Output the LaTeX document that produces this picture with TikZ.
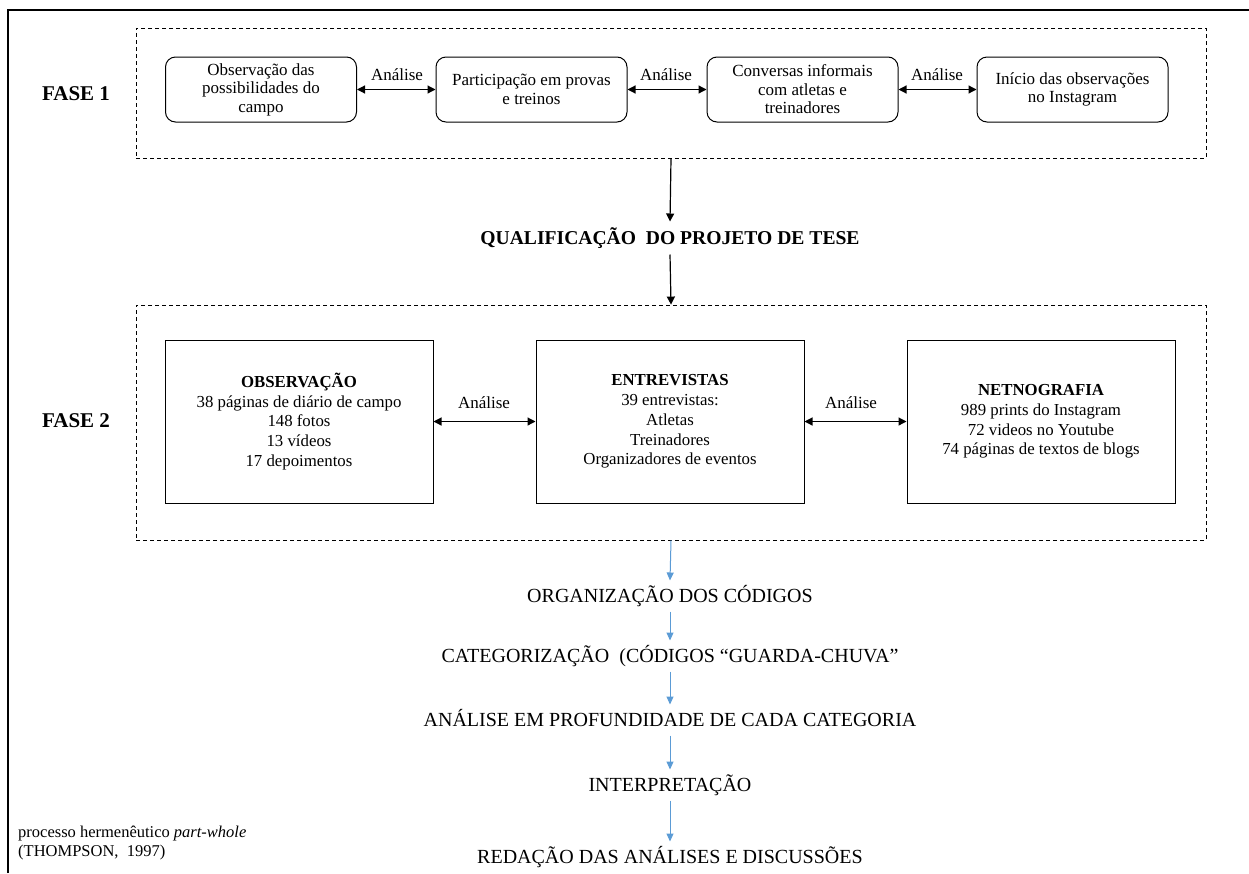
\documentclass[tikz,border=0pt]{standalone}
\usepackage{fontspec}
\setmainfont{Liberation Serif}
\usetikzlibrary{arrows.meta}
\definecolor{flowblue}{RGB}{91,155,213}
\begin{document}
\begin{tikzpicture}[x=1pt,y=-1pt,
  rbox/.style={draw,rounded corners=10pt,line width=1pt,minimum width=191pt,minimum height=65pt,align=center,inner sep=2pt,font=\fontsize{17}{18.5}\selectfont},
  sbox/.style={draw,line width=1pt,minimum width=268pt,minimum height=163pt,align=center,inner sep=2pt,font=\fontsize{16.8}{19.8}\selectfont},
  phase/.style={draw,dash pattern=on 4pt off 3pt,line width=0.9pt,minimum width=1070pt},
  lbl/.style={font=\fontsize{17}{18}\selectfont,inner sep=0pt},
  fase/.style={font=\fontsize{21}{24}\selectfont\bfseries,inner sep=0pt},
  steptext/.style={font=\fontsize{20}{22}\selectfont,inner sep=0pt,text height=13pt,text depth=0pt,outer sep=9pt},
  biarrow/.style={line width=1.2pt,{Triangle[length=8pt,width=8pt]}-{Triangle[length=8pt,width=8pt]}},
  darrow/.style={line width=1.2pt,-{Triangle[length=8pt,width=8pt]}},
  barrow/.style={draw=flowblue,line width=1pt,-{Triangle[length=8pt,width=7pt]},color=flowblue}
]
\useasboundingbox (0,0) rectangle (1249,873);
% outer frame
\draw[line width=1.3pt] (8,873) -- (8,10) -- (1249,10);

% FASE 1
\node[phase,minimum height=130pt] (f1) at (671,93) {};
\node[fase] (fase1) at (76,94) {FASE 1};
\node[rbox] (b1) at (261,89.5) {Observação das\\possibilidades do\\campo};
\node[rbox] (b2) at (531.5,89.5) {Participação em provas\\e treinos};
\node[rbox] (b3) at (802.5,89.5) {Conversas informais\\com atletas e\\treinadores};
\node[rbox] (b4) at (1072.5,89.5) {Início das observações\\no Instagram};
\draw[biarrow] (b1) -- (b2);
\draw[biarrow] (b2) -- (b3);
\draw[biarrow] (b3) -- (b4);
\node[lbl] (a1) at (397,75) {Análise};
\node[lbl] (a2) at (666,75) {Análise};
\node[lbl] (a3) at (937,75) {Análise};

% Qualificação
\node[font=\fontsize{19.6}{22}\selectfont\bfseries,inner sep=0pt,text height=13pt,text depth=0pt,outer sep=10pt] (q) at (670,238) {QUALIFICAÇÃO~~DO PROJETO DE TESE};

% FASE 2
\node[phase,minimum height=235pt] (f2) at (671,422.5) {};
\draw[darrow] (f1.south) -- (q.north);
\draw[darrow] (q.south) -- (f2.north);
\node[fase] (fase2) at (76,421) {FASE 2};
\node[sbox] (obs) at (299,421.5) {\textbf{OBSERVAÇÃO}\\38 páginas de diário de campo\\148 fotos\\13 vídeos\\17 depoimentos};
\node[sbox] (ent) at (670,421.5) {\textbf{ENTREVISTAS}\\39 entrevistas:\\Atletas\\Treinadores\\Organizadores de eventos};
\node[sbox] (net) at (1041,421.5) {\textbf{NETNOGRAFIA}\\989 prints do Instagram\\72 videos no Youtube\\74 páginas de textos de blogs};
\draw[biarrow] (obs) -- (ent);
\draw[biarrow] (ent) -- (net);
\node[lbl] (a4) at (484,403) {Análise};
\node[lbl] (a5) at (851,403) {Análise};

% Steps
\node[steptext] (s1) at (670,596) {ORGANIZAÇÃO DOS CÓDIGOS};
\node[steptext] (s2) at (670,656) {CATEGORIZAÇÃO~~(CÓDIGOS “GUARDA-CHUVA”};
\node[steptext] (s3) at (670,720) {ANÁLISE EM PROFUNDIDADE DE CADA CATEGORIA};
\node[steptext] (s4) at (670,785) {INTERPRETAÇÃO};
\node[steptext] (s5) at (670,857) {REDAÇÃO DAS ANÁLISES E DISCUSSÕES};
\draw[barrow] (f2.south) -- (s1.north);
\draw[barrow] (s1.south) -- (s2.north);
\draw[barrow] (s2.south) -- (s3.north);
\draw[barrow] (s3.south) -- (s4.north);
\draw[barrow] (s4.south) -- (s5.north);

% footnote
\node[anchor=west,align=left,inner sep=0pt,font=\fontsize{16.5}{19}\selectfont] (note) at (18,843) {processo hermenêutico \textit{part-whole}\\(THOMPSON,~~1997)};
\end{tikzpicture}
\end{document}
